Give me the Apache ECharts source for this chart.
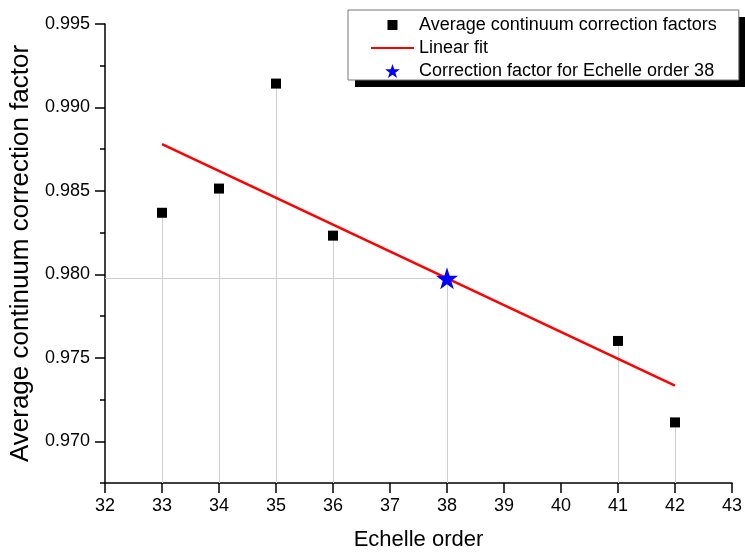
<!DOCTYPE html>
<html>
<head>
<meta charset="utf-8">
<script src="https://cdn.jsdelivr.net/npm/echarts@6/dist/echarts.min.js"></script>
<style>
  html, body { margin: 0; padding: 0; background: #fff; }
  #chart { width: 745px; height: 556px; }
</style>
</head>
<body>
<div id="chart"></div>
<script>
// measured points
var orders = [33, 34, 35, 36, 41, 42];
var factors = [0.98369, 0.98514, 0.99143, 0.98232, 0.97601, 0.97113];
// linear fit end points
var fitOrders = [33, 42];
var fitValues = [0.98780, 0.97333];
// interpolated value for order 38
var starOrder = [38];
var starValue = [0.97976];
var yMajorTicks = [0.970, 0.975, 0.980, 0.985, 0.990, 0.995];

var yMin = 0.9675, yMax = 0.995;
var font = 'Liberation Sans, Arial, sans-serif';
var starPath = 'path://M50,0L61.8,35.3L99,35.3L69,57.3L80.4,92.7L50,70.8L19.6,92.7L31,57.3L1,35.3L38.2,35.3Z';

var chart = echarts.init(document.getElementById('chart'));

var pts = orders.map(function (o, i) { return [o, factors[i]]; });
var fit = fitOrders.map(function (o, i) { return [o, fitValues[i]]; });
var star = starOrder.map(function (o, i) { return [o, starValue[i]]; });

// grey drop lines from every marker down to the axis
var drops = pts.concat(star).map(function (p) {
  return [{ coord: [p[0], yMin] }, { coord: [p[0], p[1]] }];
});
drops.push([{ coord: [32, star[0][1]] }, { coord: [star[0][0], star[0][1]] }]);

var option = {
  animation: false,
  backgroundColor: '#fff',
  grid: { left: 105, right: 9, top: 24, bottom: 69 },
  // legend drop shadow
  graphic: [{
    type: 'rect',
    z: 0,
    silent: true,
    shape: { x: 355, y: 17, width: 390, height: 70 },
    style: { fill: '#000' }
  }],
  legend: {
    orient: 'vertical',
    left: 348,
    top: 10,
    z: 10,
    padding: [6, 22, 0, 22],
    itemGap: 5,
    itemWidth: 43,
    itemHeight: 14,
    backgroundColor: '#fff',
    borderColor: '#777',
    borderWidth: 1,
    textStyle: { fontFamily: font, fontSize: 18, color: '#000', lineHeight: 16 },
    data: [
      { name: 'Average continuum correction factors', icon: 'path://M0,0M14,14M2,2H12V12H2Z' },
      { name: 'Linear fit', itemStyle: { opacity: 0 } },
      { name: 'Correction factor for Echelle order 38', icon: starPath }
    ]
  },
  xAxis: {
    type: 'value',
    min: 32,
    max: 43,
    interval: 1,
    name: 'Echelle order',
    nameLocation: 'middle',
    nameGap: 46,
    nameTextStyle: { fontFamily: font, fontSize: 22, color: '#000' },
    axisLine: { show: true, lineStyle: { color: '#000', width: 1.5 } },
    axisTick: { show: true, length: 10, lineStyle: { color: '#000', width: 1.5 } },
    axisLabel: { fontFamily: font, fontSize: 18, color: '#000', margin: 14 },
    splitLine: { show: false }
  },
  yAxis: [
    {
      type: 'value',
      min: yMin,
      max: yMax,
      interval: 0.0025,
      name: 'Average continuum correction factor',
      nameLocation: 'middle',
      nameGap: 71,
      nameTextStyle: { fontFamily: font, fontSize: 26, color: '#000' },
      axisLine: { show: true, lineStyle: { color: '#000', width: 1.5 } },
      axisTick: { show: true, length: 5, lineStyle: { color: '#000', width: 1.5 } },
      axisLabel: {
        fontFamily: font, fontSize: 18, color: '#000', margin: 15,
        formatter: function (v) {
          return Math.round(v * 10000) % 50 === 0 ? v.toFixed(3) : '';
        }
      },
      splitLine: { show: false }
    },
    {
      type: 'value',
      min: yMin,
      max: yMax,
      position: 'left',
      axisLine: { show: false },
      axisTick: { show: true, length: 10, customValues: yMajorTicks, lineStyle: { color: '#000', width: 1.5 } },
      axisLabel: { show: false },
      splitLine: { show: false }
    }
  ],
  series: [
    {
      name: 'Average continuum correction factors',
      type: 'scatter',
      symbol: 'rect',
      symbolSize: 10,
      itemStyle: { color: '#000', opacity: 1 },
      data: pts,
      z: 3,
      markLine: {
        silent: true,
        symbol: 'none',
        z: 1,
        label: { show: false },
        lineStyle: { color: '#cfcfcf', width: 1, type: 'solid' },
        data: drops
      }
    },
    {
      name: 'Linear fit',
      type: 'line',
      showSymbol: false,
      symbol: 'none',
      lineStyle: { color: '#ff0000', width: 2.5 },
      itemStyle: { color: '#ff0000' },
      data: fit,
      z: 4
    },
    {
      name: 'Correction factor for Echelle order 38',
      type: 'scatter',
      symbol: starPath,
      symbolSize: 22,
      itemStyle: { color: '#0000ff', opacity: 1 },
      data: star,
      z: 5
    }
  ]
};

chart.setOption(option);
</script>
</body>
</html>
